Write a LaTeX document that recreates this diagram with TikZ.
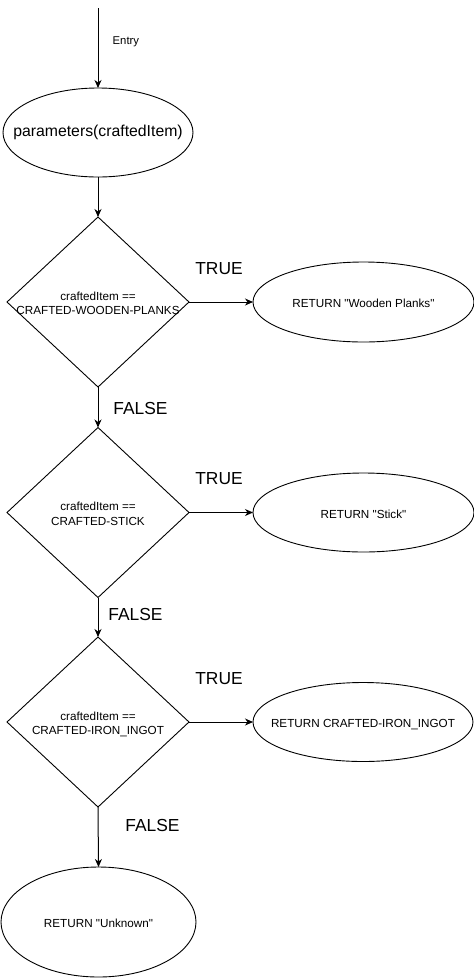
\documentclass[tikz,border=0pt]{standalone}
\usepackage{fontspec}
\setmainfont{Liberation Sans}
\usetikzlibrary{shapes.geometric,arrows.meta}
\newcommand{\qq}{\textquotedbl}
\tikzset{
  flow/.style={draw=black,line width=1pt,-{Stealth[length=8pt,width=7pt,inset=2.5pt]}},
  oval/.style={draw=black,line width=0.9pt,ellipse,inner sep=0pt,outer sep=0pt},
  dia/.style={draw=black,line width=0.9pt,diamond,inner sep=0pt,outer sep=0pt,minimum width=182pt,minimum height=170pt},
  small/.style={font=\fontsize{11.7}{14.5}\selectfont,align=center,inner sep=0pt,text depth=0pt,yshift=-1.5pt},
  big/.style={font=\fontsize{17.4}{20}\selectfont,inner sep=0pt},
}
\begin{document}
\begin{tikzpicture}[x=1pt,y=-1pt]
\useasboundingbox (0,0) rectangle (474,978);
% start
\coordinate (s) at (98,8);
\node[oval,minimum width=190pt,minimum height=89pt] (p) at (98,132.5) {};
\node[font=\fontsize{15.8}{19}\selectfont,inner sep=0pt] (pt) at (p.center) {parameters(craftedItem)};
\draw[flow] (s) -- (p.north);
\node[font=\fontsize{11.3}{13}\selectfont,anchor=west,inner sep=0pt] (entry) at (112.5,42) {Entry};
% decision 1
\node[dia] (d1) at (98,302) {};
\node[small] (t1) at (d1.center) {craftedItem ==\\CRAFTED-WOODEN-PLANKS};
\node[oval,minimum width=221pt,minimum height=80pt] (r1) at (363.5,302) {};
\node[small] (rt1) at (r1.center) {RETURN \qq Wooden Planks\qq};
\draw[flow] (p.south) -- (d1.north);
\draw[flow] (d1.east) -- (r1.west);
\node[big] (true1) at (219,268.5) {TRUE};
% decision 2
\node[dia] (d2) at (98,512.5) {};
\node[small] (t2) at (d2.center) {craftedItem ==\\CRAFTED-STICK};
\node[oval,minimum width=221pt,minimum height=79pt] (r2) at (363.5,512.5) {};
\node[small] (rt2) at (r2.center) {RETURN \qq Stick\qq};
\draw[flow] (d1.south) -- (d2.north);
\draw[flow] (d2.east) -- (r2.west);
\node[big] (false1) at (140.5,408.5) {FALSE};
\node[big] (true2) at (219,478.5) {TRUE};
% decision 3
\node[dia] (d3) at (98,722) {};
\node[small] (t3) at (d3.center) {craftedItem ==\\CRAFTED-IRON\_INGOT};
\node[oval,minimum width=220pt,minimum height=79pt] (r3) at (363,722) {};
\node[small] (rt3) at (r3.center) {RETURN CRAFTED-IRON\_INGOT};
\draw[flow] (d2.south) -- (d3.north);
\draw[flow] (d3.east) -- (r3.west);
\node[big] (false2) at (135.5,615) {FALSE};
\node[big] (true3) at (219,678.5) {TRUE};
% final
\node[oval,minimum width=195pt,minimum height=110pt] (u) at (98.5,922) {};
\node[small] (ut) at (u.center) {RETURN \qq Unknown\qq};
\draw[flow] (d3.south) -- (u.north);
\node[big] (false3) at (152.5,825) {FALSE};
\end{tikzpicture}
\end{document}
